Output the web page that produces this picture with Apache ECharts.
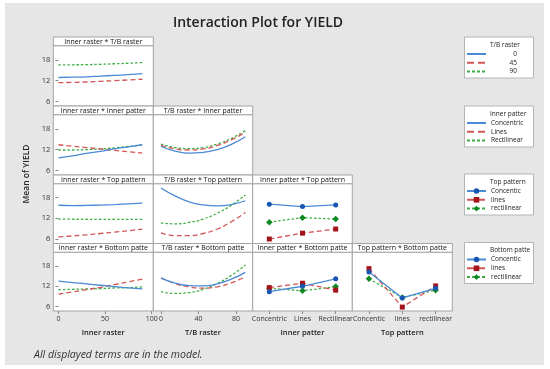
<!DOCTYPE html>
<html><head><meta charset="utf-8">
<script src="https://cdn.jsdelivr.net/npm/echarts@6/dist/echarts.min.js"></script>
<style>
html,body{margin:0;padding:0;background:#fff;}
#wrap{position:relative;width:550px;height:369px;background:#fff;}
#bg{position:absolute;left:5px;top:3px;width:539px;height:362px;background:#e6e6e6;}
#chart{position:absolute;left:0;top:0;width:550px;height:369px;}
</style></head><body>
<div id="wrap"><div id="bg"></div><div id="chart"></div></div>
<script>
// ---------- data ----------
const xNum = [0, 15, 30, 45, 60, 75, 90];
const innerPatterCats = ['Concentric', 'Lines', 'Rectilinear'];
const topPatternCats = ['Concentic', 'lines', 'rectilinear'];
const tbRasterLevels = ['0', '45', '90'];
const innerRasterTicks = [0, 50, 100];
const tbRasterTicks = [0, 40, 80];
const yTicks = [6, 12, 18];

// Inner raster * T/B raster
const irTb0  = [12.9, 13.0, 13.1, 13.3, 13.5, 13.7, 14.0];
const irTb45 = [11.4, 11.5, 11.6, 11.8, 12.0, 12.2, 12.4];
const irTb90 = [16.5, 16.55, 16.6, 16.7, 16.85, 17.0, 17.2];
// Inner raster * Inner patter
const irIpConc  = [9.6, 10.2, 10.9, 11.5, 12.2, 12.8, 13.4];
const irIpLines = [13.4, 13.0, 12.6, 12.2, 11.8, 11.4, 11.0];
const irIpRect  = [11.9, 11.9, 12.0, 12.2, 12.5, 12.9, 13.4];
// T/B raster * Inner patter
const tbIpConc  = [12.9, 11.6, 11.0, 11.2, 12.0, 13.5, 15.7];
const tbIpLines = [13.2, 12.2, 11.9, 12.2, 13.2, 14.8, 17.0];
const tbIpRect  = [13.6, 12.6, 12.3, 12.6, 13.6, 15.2, 17.5];
// Inner raster * Top pattern
const irTpConc  = [15.8, 15.7, 15.75, 15.85, 16.0, 16.2, 16.4];
const irTpLines = [6.6, 6.9, 7.2, 7.6, 8.0, 8.4, 8.9];
const irTpRect  = [11.8, 11.75, 11.7, 11.7, 11.7, 11.7, 11.7];
// T/B raster * Top pattern
const tbTpConc  = [20.8, 18.5, 16.8, 15.9, 15.6, 16.0, 17.1];
const tbTpLines = [7.8, 7.0, 7.0, 7.6, 8.9, 11.0, 13.7];
const tbTpRect  = [10.7, 10.4, 10.8, 11.8, 13.5, 15.8, 18.8];
// Inner patter * Top pattern
const ipTpConc  = [16.1, 15.4, 15.9];
const ipTpLines = [6.0, 7.7, 8.9];
const ipTpRect  = [10.9, 12.2, 11.8];
// Inner raster * Bottom patte
const irBpConc  = [13.5, 13.1, 12.7, 12.3, 11.9, 11.5, 11.2];
const irBpLines = [9.7, 10.3, 11.0, 11.7, 12.5, 13.3, 14.1];
const irBpRect  = [11.0, 11.1, 11.2, 11.3, 11.5, 11.6, 11.8];
// T/B raster * Bottom patte
const tbBpConc  = [14.4, 12.95, 12.2, 12.1, 12.7, 14.1, 16.1];
const tbBpLines = [14.5, 12.8, 11.8, 11.45, 11.85, 13.0, 14.8];
const tbBpRect  = [10.4, 9.9, 10.15, 11.1, 12.8, 15.2, 18.3];
// Inner patter * Bottom patte
const ipBpConc  = [10.4, 12.0, 14.2];
const ipBpLines = [11.6, 12.9, 10.85];
const ipBpRect  = [11.4, 10.65, 11.9];
// Top pattern * Bottom patte
const tpBpConc  = [16.2, 8.55, 11.4];
const tpBpLines = [17.2, 5.85, 12.1];
const tpBpRect  = [14.2, 8.7, 10.85];

// ---------- layout / style ----------
const FONT = "'Open Sans', 'Noto Sans', sans-serif";
const colX = [53.3, 153.3, 252.7, 352.3, 452.3];
const rowT = [37, 106, 175, 243.5];
const rowB = [106, 175, 243.5, 311];
const STRIP = 8.7;
const YMIN = 4.7, YMAX = 22.05;
const STY = [
  {line: '#4a8ad6', type: 'solid', mk: 'circle', mkColor: '#1756b3', mkSize: 5, lgType: 'solid'},
  {line: '#d25555', type: [5, 3], mk: 'rect', mkColor: '#a3141b', mkSize: 5, lgType: [7, 4]},
  {line: '#3fae45', type: [2.5, 2], mk: 'diamond', mkColor: '#0d8a1f', mkSize: 6.5, lgType: [3, 2]}
];

const panels = [
  {r: 0, c: 0, title: 'Inner raster * T/B raster', names: tbRasterLevels, vals: [irTb0, irTb45, irTb90]},
  {r: 1, c: 0, title: 'Inner raster * Inner patter', names: innerPatterCats, vals: [irIpConc, irIpLines, irIpRect]},
  {r: 1, c: 1, title: 'T/B raster * Inner patter', names: innerPatterCats, vals: [tbIpConc, tbIpLines, tbIpRect]},
  {r: 2, c: 0, title: 'Inner raster * Top pattern', names: topPatternCats, vals: [irTpConc, irTpLines, irTpRect]},
  {r: 2, c: 1, title: 'T/B raster * Top pattern', names: topPatternCats, vals: [tbTpConc, tbTpLines, tbTpRect]},
  {r: 2, c: 2, title: 'Inner patter * Top pattern', names: topPatternCats, vals: [ipTpConc, ipTpLines, ipTpRect]},
  {r: 3, c: 0, title: 'Inner raster * Bottom patte', names: topPatternCats, vals: [irBpConc, irBpLines, irBpRect]},
  {r: 3, c: 1, title: 'T/B raster * Bottom patte', names: topPatternCats, vals: [tbBpConc, tbBpLines, tbBpRect]},
  {r: 3, c: 2, title: 'Inner patter * Bottom patte', names: topPatternCats, vals: [ipBpConc, ipBpLines, ipBpRect]},
  {r: 3, c: 3, title: 'Top pattern * Bottom patte', names: topPatternCats, vals: [tpBpConc, tpBpLines, tpBpRect]}
];
const xNames = ['Inner raster', 'T/B raster', 'Inner patter', 'Top pattern'];

const grids = [], xAxes = [], yAxes = [], catSeries = [], lineSeries = [], graphics = [];
const labelStyle = {fontSize: 7, color: '#333', fontFamily: FONT};

panels.forEach((p, i) => {
  const left = colX[p.c], w = colX[p.c + 1] - colX[p.c];
  const top = rowT[p.r] + STRIP, h = rowB[p.r] - top;
  grids.push({left, top, width: w, height: h, show: true, backgroundColor: '#fff',
    borderColor: '#a4a4a4', borderWidth: 1, containLabel: false});
  const bottom = p.r === 3;
  const isCat = p.c >= 2;
  const xa = {gridIndex: i, axisLine: {show: false}, splitLine: {show: false},
    axisTick: {show: bottom, length: 3, lineStyle: {color: '#888'}},
    axisLabel: Object.assign({show: bottom, margin: 4}, labelStyle)};
  if (isCat) {
    xa.type = 'category';
    xa.data = p.c === 2 ? innerPatterCats : topPatternCats;
    xa.axisTick.alignWithLabel = true;
    xa.axisLabel.interval = 0;
  } else {
    xa.type = 'value';
    if (p.c === 0) { xa.min = -5.5; xa.max = 101.7; xa.axisTick.customValues = innerRasterTicks; xa.axisLabel.customValues = innerRasterTicks; }
    else { xa.min = -8.2; xa.max = 97.8; xa.axisTick.customValues = tbRasterTicks; xa.axisLabel.customValues = tbRasterTicks; }
  }
  if (bottom) {
    xa.name = xNames[p.c]; xa.nameLocation = 'middle'; xa.nameGap = 18;
    xa.nameTextStyle = {fontSize: 7.5, fontWeight: 600, color: '#222', fontFamily: FONT};
  }
  xAxes.push(xa);
  const first = p.c === 0;
  yAxes.push({gridIndex: i, type: 'value', min: YMIN, max: YMAX,
    axisLine: {show: false}, splitLine: {show: false},
    axisTick: {show: first, length: 3, customValues: yTicks, lineStyle: {color: '#888'}},
    axisLabel: Object.assign({show: first, margin: 3, customValues: yTicks}, labelStyle, {fontSize: 7.5})});
  // strip
  graphics.push({type: 'rect', z: 1, shape: {x: left, y: rowT[p.r], width: w, height: STRIP},
    style: {fill: '#fff', stroke: '#a4a4a4', lineWidth: 1}});
  graphics.push({type: 'text', z: 2, x: left + w / 2, y: rowT[p.r] + STRIP / 2 + 0.3,
    style: {text: p.title, align: 'center', verticalAlign: 'middle', fill: '#111',
      font: '500 7px ' + FONT}});
  // series
  p.vals.forEach((v, k) => {
    const st = STY[k];
    const s = {type: 'line', name: p.names[k], xAxisIndex: i, yAxisIndex: i,
      lineStyle: {color: st.line, width: 1.3, type: st.type},
      itemStyle: {color: st.mkColor}, animation: false, z: 3 + (2 - k)};
    if (isCat) {
      s.data = v; s.symbol = st.mk; s.symbolSize = st.mkSize; s.showSymbol = true;
      catSeries.push(s);
    } else {
      s.data = xNum.map((x, j) => [x, v[j]]); s.smooth = 0.5; s.symbol = 'none'; s.showSymbol = false;
      s.itemStyle = {color: st.line};
      lineSeries.push(s);
    }
  });
});

// legends
const legendTops = [37, 106, 174, 242.5];
const legendTitles = ['T/B raster', 'Inner patter', 'Top pattern', 'Bottom patte'];
const legendNames = [tbRasterLevels, innerPatterCats, topPatternCats, topPatternCats];
const legends = legendNames.map((names, i) => {
  graphics.push({type: 'rect', z: 1, shape: {x: 464.5, y: legendTops[i], width: 69, height: 41},
    style: {fill: '#fff', stroke: '#b4b4b4', lineWidth: 1}});
  graphics.push({type: 'text', z: 2, x: 490, y: legendTops[i] + 8,
    style: {text: legendTitles[i], align: 'left', verticalAlign: 'middle', fill: '#222', font: '6.5px ' + FONT}});
  const lg = {orient: 'vertical', left: 466, top: legendTops[i] + 13.5, itemWidth: 19, itemHeight: 7,
    itemGap: 1.8, padding: 0, selectedMode: false, z: 10,
    data: names.map((n, k) => ({name: n, lineStyle: {type: STY[k].lgType}})),
    textStyle: {fontSize: 6.5, lineHeight: 7, color: '#222', fontFamily: FONT}};
  if (i < 2) lg.itemStyle = {opacity: 0};
  if (i === 0) {
    lg.formatter = '{r|{name}}';
    lg.textStyle.rich = {r: {width: 26, align: 'right', fontSize: 6.5, lineHeight: 7, fontFamily: FONT, color: '#222'}};
  }
  return lg;
});

graphics.push({type: 'text', z: 2, x: 27, y: 174, rotation: Math.PI / 2,
  style: {text: 'Mean of YIELD', align: 'center', verticalAlign: 'middle', fill: '#222', font: '600 8.5px ' + FONT}});
graphics.push({type: 'text', z: 2, x: 34, y: 355,
  style: {text: 'All displayed terms are in the model.', align: 'left', verticalAlign: 'middle', fill: '#333', font: 'italic 10.5px ' + FONT}});

const chart = echarts.init(document.getElementById('chart'), null, {renderer: 'canvas'});
chart.setOption({
  backgroundColor: 'transparent',
  animation: false,
  title: {text: 'Interaction Plot for YIELD', left: 253, top: 11, textAlign: 'center',
    textStyle: {fontSize: 14, fontWeight: 600, color: '#222', fontFamily: FONT}},
  grid: grids, xAxis: xAxes, yAxis: yAxes,
  legend: legends,
  series: catSeries.concat(lineSeries),
  graphic: {elements: graphics}
});
</script>
</body></html>
